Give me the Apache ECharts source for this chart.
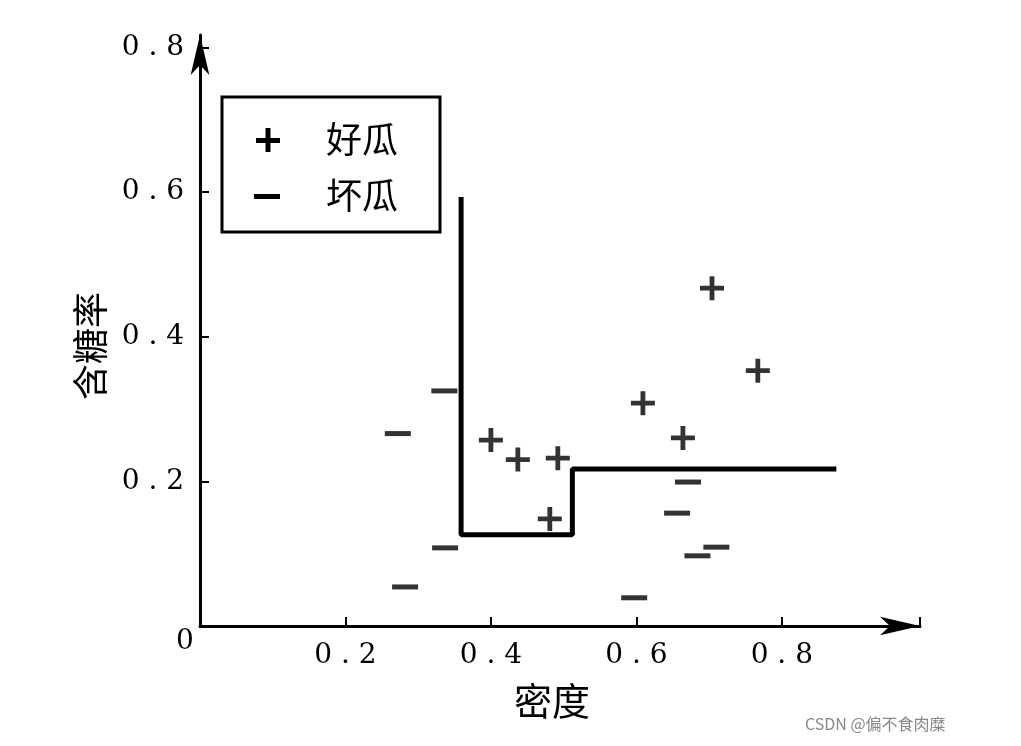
<!DOCTYPE html>
<html>
<head>
<meta charset="utf-8">
<script src="https://cdn.jsdelivr.net/npm/echarts@6/dist/echarts.min.js"></script>
<style>html,body{margin:0;background:#fff}#chart{width:1021px;height:746px}</style>
</head>
<body>
<div id="chart"></div>
<script>
// 好瓜 (good melons): [密度, 含糖率]
const goodPoints = [
  [0.400, 0.257], [0.437, 0.230], [0.492, 0.232], [0.481, 0.148],
  [0.609, 0.308], [0.664, 0.260], [0.704, 0.467], [0.767, 0.353]
];
// 坏瓜 (bad melons)
const badPoints = [
  [0.272, 0.266], [0.336, 0.325], [0.282, 0.054], [0.337, 0.108],
  [0.597, 0.039], [0.671, 0.199], [0.656, 0.156], [0.684, 0.097], [0.710, 0.109]
];
// decision boundary
const boundary = [
  [0.359, 0.593], [0.359, 0.126], [0.512, 0.126], [0.512, 0.217], [0.875, 0.217]
];
const xTicks = [0.2, 0.4, 0.6, 0.8];
const yTicks = [0.2, 0.4, 0.6];

const serif = '"DejaVu Serif", "Liberation Serif", serif';
const cjk = '"Noto Sans CJK SC", sans-serif';
const plusPath = 'path://M4,0h2v4h4v2h-4v4h-2v-4h-4v-2h4z';
const fmt = v => xTicks.concat(yTicks).includes(+v.toFixed(1)) ? v.toFixed(1).split('').join(' ') : '';

const chart = echarts.init(document.getElementById('chart'));
chart.setOption({
  animation: false,
  grid: { left: 200, right: 101, top: 35, bottom: 120 },
  xAxis: {
    type: 'value', min: 0, max: 0.99, interval: 0.2,
    axisLine: { lineStyle: { color: '#000', width: 3 }, symbol: ['none', 'arrow'], symbolSize: [14, 40] },
    axisTick: { inside: true, length: 9, lineStyle: { color: '#000', width: 2 } },
    axisLabel: { formatter: v => v === 0 ? '' : fmt(v), color: '#000', fontFamily: serif, fontSize: 28, margin: 16 },
    splitLine: { show: false }
  },
  yAxis: {
    type: 'value', min: 0, max: 0.817, interval: 0.2,
    axisLine: { lineStyle: { color: '#000', width: 3 }, symbol: ['none', 'arrow'], symbolSize: [14, 40] },
    axisTick: { inside: true, length: 9, lineStyle: { color: '#000', width: 2 } },
    axisLabel: { formatter: v => v === 0 ? '' : fmt(v), color: '#000', fontFamily: serif, fontSize: 28, margin: 16 },
    splitLine: { show: false }
  },
  series: [
    { type: 'line', data: boundary, symbol: 'none', lineStyle: { color: '#000', width: 5 }, z: 1 },
    { type: 'scatter', data: goodPoints, symbol: plusPath, symbolSize: 24, itemStyle: { color: '#000' }, z: 3 },
    { type: 'scatter', data: badPoints, symbol: 'rect', symbolSize: [26, 5], itemStyle: { color: '#000' }, z: 3 }
  ],
  graphic: [
    { type: 'rect', shape: { x: 222, y: 97, width: 218, height: 135 }, style: { fill: '#fff', stroke: '#000', lineWidth: 3 }, z: 10 },
    { type: 'rect', shape: { x: 256, y: 138, width: 24, height: 5 }, style: { fill: '#000' }, z: 11 },
    { type: 'rect', shape: { x: 265.5, y: 128, width: 5, height: 24 }, style: { fill: '#000' }, z: 11 },
    { type: 'rect', shape: { x: 254, y: 194, width: 26, height: 5 }, style: { fill: '#000' }, z: 11 },
    { type: 'text', x: 326, y: 121, style: { text: '好瓜', font: '36px ' + cjk, fill: '#000' }, z: 11 },
    { type: 'text', x: 326, y: 177, style: { text: '坏瓜', font: '36px ' + cjk, fill: '#000' }, z: 11 },
    { type: 'text', x: 176, y: 628, style: { text: '0', font: '28px ' + serif, fill: '#000' } },
    { type: 'text', x: 514, y: 682, style: { text: '密度', font: '38px ' + cjk, fill: '#000' } },
    { type: 'text', x: 72, y: 400, rotation: Math.PI / 2, style: { text: '含糖率', font: '36px ' + cjk, fill: '#000' } },
    { type: 'text', x: 805, y: 716, style: { text: 'CSDN @偏不食肉糜', font: '16px ' + cjk, fill: '#888' } }
  ]
});
</script>
</body>
</html>
